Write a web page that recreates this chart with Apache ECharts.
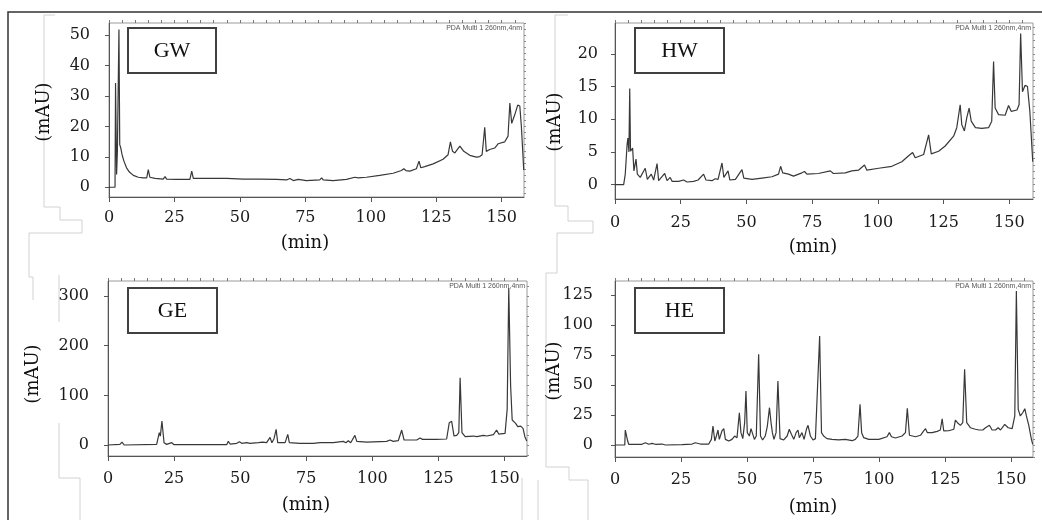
<!DOCTYPE html>
<html><head><meta charset="utf-8">
<script src="https://cdn.jsdelivr.net/npm/echarts@6/dist/echarts.min.js"></script>
<style>html,body{margin:0;padding:0;background:#fff}#c{width:1042px;height:520px}</style>
</head><body><div id="c"></div>
<script>
// ---------------- data ----------------
const panelNames = ['GW', 'HW', 'GE', 'HE'];
const timeTickLabels = [0, 25, 50, 75, 100, 125, 150];
const gwTickLabels = [0, 10, 20, 30, 40, 50];
const hwTickLabels = [0, 5, 10, 15, 20];
const geTickLabels = [0, 100, 200, 300];
const heTickLabels = [0, 25, 50, 75, 100, 125];
const xAxisTitle = '(min)';
const yAxisTitle = '(mAU)';
const detectorNote = 'PDA Multi 1 260nm,4nm';

// [time (min), absorbance (mAU)]
const gwTrace = [[0,0],[2.3,0],[2.5,34.3],[2.9,4.2],[3.2,11.8],[3.8,51.9],[4.1,14.0],[4.5,12.9],[5.0,10.7],[5.7,8.6],[6.7,6.4],[7.8,5.0],[9.3,3.9],[11.2,3.3],[13.1,3.1],[14.4,3.1],[15.0,5.8],[15.6,3.3],[17.6,2.9],[20.7,2.7],[21.4,3.5],[22.0,2.7],[25.8,2.6],[26.5,3.2],[27.1,2.6],[30.9,2.6],[31.6,5.3],[32.2,2.9],[37.3,2.9],[37.9,3.5],[38.5,2.9],[44.9,2.9],[51.3,2.7],[57.6,2.7],[64.0,2.6],[67.8,2.4],[69.1,2.9],[70.4,2.2],[72.3,2.6],[72.9,2.3],[75.4,2.2],[80.5,2.4],[81.2,3.1],[81.8,2.4],[85.6,2.2],[90.7,2.6],[93.9,3.3],[94.5,3.7],[95.2,3.1],[98.3,3.3],[103.4,3.9],[108.5,4.6],[111.7,5.5],[112.6,6.1],[113.4,5.5],[114.9,5.3],[117.4,6.1],[118.4,8.6],[119.1,6.4],[120.6,6.8],[123.8,7.7],[127.6,9.2],[129.5,10.7],[130.4,14.9],[131.2,11.8],[132.1,11.3],[133.0,12.4],[134.0,13.5],[134.7,14.0],[135.5,11.8],[137.8,10.5],[140.3,9.9],[141.6,10.1],[142.5,10.7],[143.5,19.7],[144.1,11.8],[145.4,12.4],[147.3,12.9],[148.6,14.3],[149.2,13.8],[151.1,14.9],[152.4,16.8],[153.1,27.7],[153.8,21.0],[155.0,23.9],[156.1,27.0],[156.9,26.7],[157.5,20.0],[158.4,5.7]];

const hwTrace = [[0,0],[3.3,0],[3.9,1.6],[4.6,6.1],[4.9,7.1],[5.3,5.0],[5.6,14.7],[5.9,5.1],[6.7,5.6],[7.2,2.1],[8.0,3.9],[8.5,1.6],[9.6,1.1],[11.5,2.5],[12.3,0.8],[13.8,1.6],[14.7,0.7],[16.0,3.2],[16.6,0.6],[18.9,1.7],[19.8,0.6],[21.0,1.1],[21.7,0.5],[24.2,0.5],[26.1,0.7],[27.4,0.4],[29.9,0.5],[31.6,0.7],[33.7,1.6],[34.6,0.7],[36.9,0.6],[38.1,0.9],[39.2,0.8],[40.7,3.3],[41.4,1.1],[43.0,2.1],[43.7,0.7],[45.8,0.8],[48.3,2.3],[49.0,1.0],[52.1,0.8],[55.9,1.0],[59.7,1.2],[62.2,1.6],[63.0,2.8],[63.8,1.8],[66.0,1.6],[67.9,1.3],[71.1,1.8],[72.1,2.0],[73.0,1.6],[77.4,1.7],[81.9,2.1],[83.1,1.7],[87.6,1.8],[90.1,2.1],[92.6,2.2],[94.9,3.0],[95.8,2.2],[100.3,2.5],[105.3,2.8],[109.1,3.5],[111.7,4.4],[113.2,4.9],[114.2,4.1],[117.4,4.6],[119.3,7.6],[120.3,4.7],[123.1,5.1],[125.6,5.9],[128.8,7.4],[130.0,8.7],[131.3,12.2],[131.9,9.2],[132.9,8.2],[133.8,10.2],[134.7,11.7],[135.5,9.7],[137.1,8.7],[139.5,8.6],[142.1,8.7],[142.7,9.2],[143.3,9.7],[144.0,18.8],[144.6,11.7],[145.9,10.7],[148.4,10.6],[149.7,12.1],[150.7,11.2],[152.9,11.4],[153.7,12.2],[154.3,23.1],[155.0,14.2],[156.0,15.2],[156.9,15.0],[157.8,11.2],[158.9,3.5]];

const geTrace = [[0,0],[4.5,1.3],[5.3,6.0],[6.1,0],[18.4,1.3],[19.4,24.8],[19.8,18],[20.4,48.3],[21.2,4.7],[22.2,1.3],[24.1,4.7],[25.0,0.7],[34.8,0.7],[44.9,0.7],[45.5,7.4],[46.2,2.0],[48.7,3.4],[49.7,6.7],[50.6,3.4],[52.5,4.7],[53.7,3.4],[56.9,4.7],[58.5,6.0],[60.0,4.7],[61.3,15.4],[62.0,4.7],[62.8,12.8],[63.6,31.5],[64.2,4.7],[67.0,4.7],[68.0,21.5],[68.6,4.7],[72.6,3.4],[77.7,3.4],[80.2,4.7],[85.2,4.7],[89.0,7.4],[90.0,4.7],[90.9,8.7],[91.8,4.7],[93.4,19.5],[94.1,7.4],[97.9,6.0],[105.4,7.4],[106.7,10.1],[107.9,7.4],[109.8,8.7],[111.1,30.2],[112.0,10.1],[116.8,10.1],[118.0,14.1],[119.0,11.4],[124.3,11.4],[128.1,12.1],[129.1,45],[130.0,47.7],[130.9,18.1],[131.9,19.5],[132.7,24.8],[133.2,135.6],[133.9,24.8],[135.1,16.8],[138.2,18.1],[138.8,22.1],[139.5,16.8],[142.0,19.5],[142.6,23.5],[143.3,18.1],[145.8,20.8],[147.0,30.2],[147.8,22.1],[150.2,23.5],[151.0,71.8],[151.6,316],[152.3,120],[152.9,50.3],[154.2,43.6],[155.0,37],[156.1,38],[156.5,42],[157.0,33.5],[157.7,16.8],[158.4,8]];

const heTrace = [[0,0],[3.7,0],[3.9,12.5],[4.4,13.6],[4.8,3.3],[5.2,0.6],[10.2,0.6],[11.5,1.9],[12.8,0.6],[14.0,1.4],[15.3,0.6],[17.8,0.8],[19.1,0],[25.4,0.3],[29.2,0.8],[30.4,1.9],[32.3,0.8],[35.5,0.8],[36.5,4.7],[37.1,15.8],[37.8,3.3],[38.4,7.5],[39.0,12.5],[39.5,4.7],[40.5,11.7],[41.2,13.6],[41.8,4.7],[43.1,3.3],[44.3,4.7],[45.3,7.5],[46.2,6.1],[47.1,26.9],[47.7,10.3],[48.4,5.3],[49.1,18.6],[49.6,45],[50.1,10.3],[50.9,7.5],[51.5,13.6],[52.1,12.5],[52.8,4.7],[53.5,7.5],[54.4,75.6],[55.1,7.5],[55.9,4.2],[56.9,7.5],[57.7,15.8],[58.5,31.1],[59.1,18.6],[59.6,10.3],[60.2,4.7],[61.0,10.3],[61.7,53.3],[62.5,5.3],[63.9,4.2],[65.2,7.5],[66.0,13.1],[66.8,8.9],[67.7,4.7],[68.6,10.3],[69.3,12.5],[69.8,6.1],[70.8,10.3],[71.6,4.7],[72.5,13.1],[73.1,16.4],[74.0,7.5],[75.0,4.2],[75.9,5.3],[76.6,6.1],[77.5,90.8],[78.2,10.3],[79.0,7.5],[80.3,5.3],[82.2,4.7],[84.7,4.2],[87.2,4.7],[89.8,3.6],[91.0,4.7],[92.0,7.5],[92.8,33.9],[93.4,10.3],[94.2,6.1],[96.1,4.7],[99.9,4.7],[103.0,6.9],[103.9,10.3],[104.7,6.9],[106.2,5.8],[108.7,7.5],[110.0,10.3],[110.7,30.6],[111.5,8.1],[113.8,6.9],[115.7,8.1],[116.9,11.7],[117.6,13.6],[118.3,10.3],[120.1,10.3],[122.0,11.4],[123.2,12.5],[123.9,21.9],[124.5,11.7],[126.4,11.9],[128.3,13.1],[128.9,20.8],[129.7,18.6],[130.8,16.4],[131.7,18.6],[132.4,63.1],[133.2,18.6],[134.6,14.4],[136.5,13.1],[137.8,12.5],[139.3,12.5],[140.3,14.4],[141.8,16.4],[142.8,12.5],[144.1,12.5],[145.1,14.4],[146.0,12.5],[147.6,17.2],[148.9,14.4],[150.4,13.6],[151.4,24.2],[152.0,128.3],[152.7,29.7],[153.5,24.2],[154.4,26.9],[155.2,30.3],[155.8,24.2],[156.7,16.4],[157.7,4.7],[158.2,0.6]];

// ---------------- layout ----------------
const panels = [
  { name: panelNames[0], data: gwTrace, yTicks: gwTickLabels, yMinorStep: 2,  grid: {left:109, top:23,  width:415, height:174}, xr:[0,158.5], yr:[-3.2,54],    yLabelMargin:19, xLabelMargin:13, box:[128,28,88,45], mAU:[44,112],  min:[305,243] },
  { name: panelNames[1], data: hwTrace, yTicks: hwTickLabels, yMinorStep: 1,  grid: {left:615, top:23,  width:418, height:176}, xr:[0,159],   yr:[-2.2,24.7],  yLabelMargin:17, xLabelMargin:16, box:[635,28,89,45], mAU:[555,122], min:[813,247] },
  { name: panelNames[2], data: geTrace, yTicks: geTickLabels, yMinorStep: 20, grid: {left:108, top:281, width:419, height:175}, xr:[0,158.5], yr:[-22.1,330.2], yLabelMargin:19, xLabelMargin:15, box:[128,288,89,45], mAU:[33,374], min:[306,505] },
  { name: panelNames[3], data: heTrace, yTicks: heTickLabels, yMinorStep: 5,  grid: {left:615, top:281, width:418, height:176}, xr:[0,158.3], yr:[-10,136.7],  yLabelMargin:22, xLabelMargin:15, box:[635,288,89,45], mAU:[554,371], min:[813,507] }
];

function stepValues(lo, hi, step) {
  const out = [];
  for (let v = Math.ceil(lo / step) * step; v <= hi + 1e-9; v += step) out.push(+v.toFixed(6));
  return out;
}

const tickFont = { fontFamily: 'DejaVu Serif', fontSize: 16, color: '#1a1a1a' };
const axisColor = '#555';

const grids = [], xAxes = [], yAxes = [], series = [], graphics = [];

panels.forEach((p, i) => {
  grids.push(Object.assign({ show: true, borderColor: '#9a9a9a', borderWidth: 1, backgroundColor: 'transparent' }, p.grid));
  const xMinor = stepValues(p.xr[0], p.xr[1], 5);
  const yMinor = stepValues(p.yr[0], p.yr[1], p.yMinorStep);
  xAxes.push({
    type: 'value', gridIndex: i, min: p.xr[0], max: p.xr[1],
    axisLine: { show: true, onZero: false, lineStyle: { color: axisColor, width: 1 } },
    axisTick: { show: true, inside: false, length: 5, customValues: timeTickLabels, lineStyle: { color: axisColor } },
    axisLabel: Object.assign({ customValues: timeTickLabels, margin: p.xLabelMargin }, tickFont),
    splitLine: { show: false }
  });
  xAxes.push({
    type: 'value', gridIndex: i, min: p.xr[0], max: p.xr[1],
    axisLine: { show: false, onZero: false },
    axisTick: { show: true, inside: false, length: 3, customValues: xMinor, lineStyle: { color: '#777' } },
    axisLabel: { show: false }, splitLine: { show: false }
  });
  yAxes.push({
    type: 'value', gridIndex: i, min: p.yr[0], max: p.yr[1],
    axisLine: { show: true, onZero: false, lineStyle: { color: axisColor, width: 1 } },
    axisTick: { show: true, inside: false, length: 4, customValues: p.yTicks, lineStyle: { color: axisColor } },
    axisLabel: Object.assign({ customValues: p.yTicks, margin: p.yLabelMargin }, tickFont),
    splitLine: { show: false }
  });
  yAxes.push({
    type: 'value', gridIndex: i, min: p.yr[0], max: p.yr[1],
    axisLine: { show: false, onZero: false },
    axisTick: { show: true, inside: false, length: 2, customValues: yMinor, lineStyle: { color: '#888' } },
    axisLabel: { show: false }, splitLine: { show: false }
  });
  series.push({
    type: 'line', name: p.name, xAxisIndex: 2 * i, yAxisIndex: 2 * i,
    data: p.data, showSymbol: false, symbol: 'none', smooth: false, clip: true,
    lineStyle: { color: '#383838', width: 1.2 }, silent: true
  });

  graphics.push({ type: 'rect', shape: { x: p.box[0], y: p.box[1], width: p.box[2], height: p.box[3] },
    style: { fill: '#fff', stroke: '#404040', lineWidth: 2 }, z: 10 });
  graphics.push({ type: 'text', x: p.box[0] + p.box[2] / 2, y: p.box[1] + p.box[3] / 2 + 1, z: 11,
    style: { text: p.name, fill: '#111', font: '22px "Liberation Serif"', align: 'center', verticalAlign: 'middle' } });
  graphics.push({ type: 'text', x: p.grid.left + p.grid.width - 2, y: p.grid.top + 2, z: 11,
    style: { text: detectorNote, fill: '#555', font: '7px "Liberation Sans"', align: 'right', verticalAlign: 'top' } });
  graphics.push({ type: 'text', x: p.min[0], y: p.min[1], z: 11,
    style: { text: xAxisTitle, fill: '#111', font: '18px "DejaVu Serif"', align: 'center', verticalAlign: 'middle' } });
  graphics.push({ type: 'text', x: p.mAU[0], y: p.mAU[1], rotation: Math.PI / 2, z: 11,
    style: { text: yAxisTitle, fill: '#111', font: '18px "DejaVu Serif"', align: 'center', verticalAlign: 'middle' } });
});

const faint = { stroke: '#d2d2d2', fill: null, lineWidth: 1 };
[
  [[44,15],[55,15]],
  [[44,15],[44,207],[60,207],[60,220],[82,220],[82,233],[29,233],[29,277],[33,277],[33,300]],
  [[59,275],[59,322]],
  [[59,423],[59,478],[80,478],[80,520]],
  [[555,15],[568,15]],
  [[555,15],[555,206],[568,206],[568,221],[593,221],[593,233],[557,233],[557,273],[546,273],[546,467],[569,467],[569,480],[588,480],[588,520]],
  [[538,480],[538,520]],
  [[522,478],[522,520]]
].forEach(pts => graphics.push({ type: 'polyline', shape: { points: pts }, style: faint, z: 0, silent: true }));
graphics.push({ type: 'polyline', shape: { points: [[8,520],[8,12],[1042,12]] }, style: { stroke: '#333', fill: null, lineWidth: 1.5 }, z: 12 });

const chart = echarts.init(document.getElementById('c'), null, { renderer: 'canvas' });
chart.setOption({
  animation: false,
  backgroundColor: '#fff',
  grid: grids, xAxis: xAxes, yAxis: yAxes, series: series,
  graphic: { elements: graphics }
});
</script>
</body></html>
